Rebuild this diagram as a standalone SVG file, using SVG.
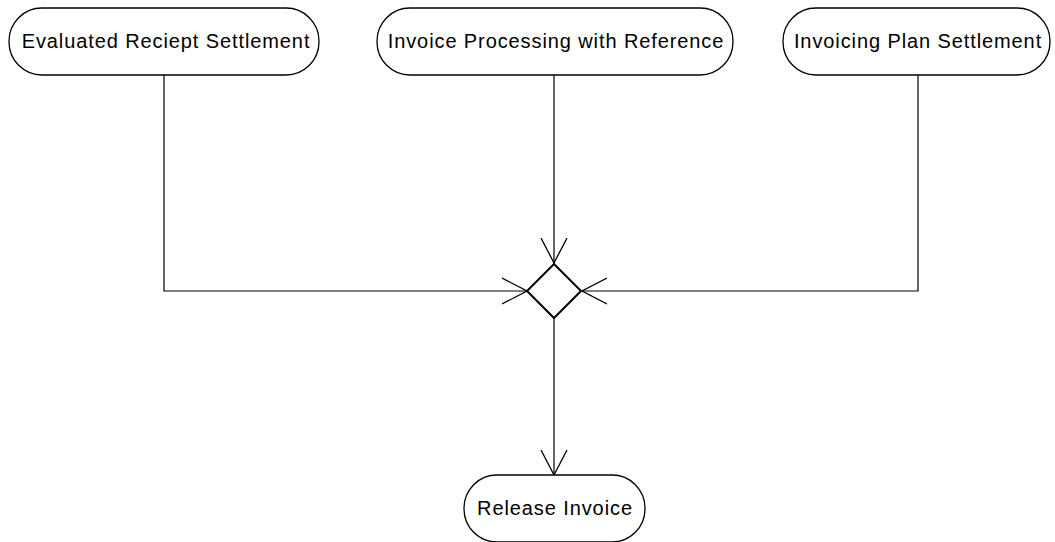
<svg xmlns="http://www.w3.org/2000/svg" width="1055" height="542" viewBox="0 0 1055 542">
  <defs>
    <marker id="open" viewBox="0 0 26 28" refX="25" refY="14" markerWidth="26" markerHeight="28" markerUnits="userSpaceOnUse" orient="auto">
      <path d="M0,1 L25,14 L0,27" fill="none" stroke="#000" stroke-width="1.3"/>
    </marker>
  </defs>
  <style>
    .state { fill: #fff; stroke: #000; stroke-width: 1.3; }
    .label { font-family: "Liberation Sans", Arial, sans-serif; font-size: 20px; letter-spacing: 0.9px; fill: #000; text-anchor: middle; }
    .flow { fill: none; stroke: #000; stroke-width: 1.2; marker-end: url(#open); }
    .merge { fill: #fff; stroke: #000; stroke-width: 2; }
  </style>
  <rect width="1055" height="542" fill="#fff"/>

  <g id="connectors">
    <polyline class="flow" points="164,75 164,291 527,291"/>
    <polyline class="flow" points="554,75 554,263"/>
    <polyline class="flow" points="918,75 918,291 582,291"/>
    <polyline class="flow" points="554,318 554,475"/>
  </g>

  <g id="node-evaluated">
    <rect class="state" x="9" y="8" width="310" height="67" rx="33" ry="33"/>
    <text class="label" x="166" y="48">Evaluated Reciept Settlement</text>
  </g>
  <g id="node-invoice-processing">
    <rect class="state" x="377" y="8" width="356" height="67" rx="33" ry="33"/>
    <text class="label" x="556" y="48">Invoice Processing with Reference</text>
  </g>
  <g id="node-invoicing-plan">
    <rect class="state" x="783" y="8" width="267" height="67" rx="33" ry="33"/>
    <text class="label" x="918" y="48">Invoicing Plan Settlement</text>
  </g>
  <g id="node-merge">
    <polygon class="merge" points="554,264 581,291 554,318 527,291"/>
  </g>
  <g id="node-release">
    <rect class="state" x="464" y="475" width="181" height="67" rx="33" ry="33"/>
    <text class="label" x="555" y="515">Release Invoice</text>
  </g>
</svg>
